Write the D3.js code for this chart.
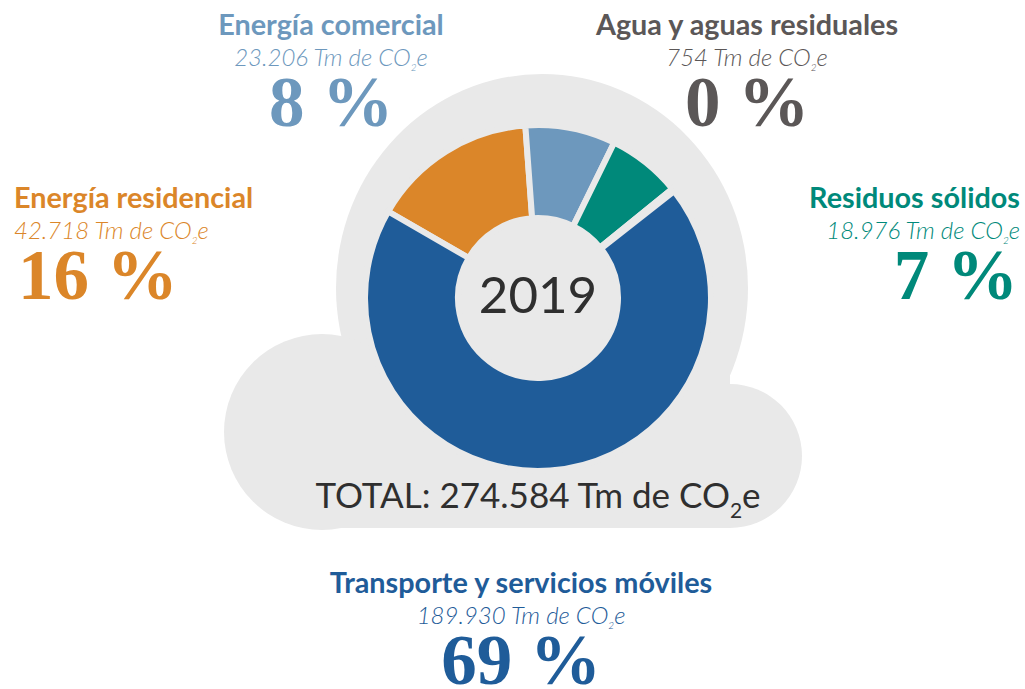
<!DOCTYPE html>
<html>
<head>
<meta charset="utf-8">
<script src="https://cdn.jsdelivr.net/npm/d3@7"></script>
<style>
  body { margin: 0; background: #fff; }
  text { font-family: Lato, "Open Sans", sans-serif; }
</style>
</head>
<body>
<svg id="chart" width="1025" height="689"></svg>
<script>
// DATA
const categories = [
  "Energía residencial",
  "Energía comercial",
  "Residuos sólidos",
  "Agua y aguas residuales",
  "Transporte y servicios móviles",
];
const emissions = [42718, 23206, 18976, 754, 189930];
const colors = ["#db8629", "#6d98bd", "#00897a", "#5b5757", "#1f5c99"];
const year = "2019";
const totalEmissions = 274584;

// label placement for each category (same order as categories)
const labelLayout = [
  { x: 14, y: 208, anchor: "start" },
  { x: 331, y: 35, anchor: "middle" },
  { x: 1020, y: 208, anchor: "end" },
  { x: 747, y: 35, anchor: "middle" },
  { x: 521, y: 593, anchor: "middle" },
];

const svg = d3.select("#chart");
const cx = 538,
  cy = 298,
  outerR = 173,
  innerR = 80;
const cloudColor = "#e9e9e9";

const es = d3.formatLocale({
  decimal: ",",
  thousands: ".",
  grouping: [3],
  currency: ["", " €"],
});
const fmt = es.format(",d");

// CLOUD BACKGROUND
const cloud = svg.append("g").attr("fill", cloudColor);
cloud.append("ellipse").attr("cx", cx + 4).attr("cy", cy - 10).attr("rx", 206).attr("ry", 214);
cloud.append("circle").attr("cx", cx - 216).attr("cy", cy + 134).attr("r", 98);
cloud.append("circle").attr("cx", cx + 192).attr("cy", cy + 158).attr("r", 72);
cloud.append("rect").attr("x", cx - 216).attr("y", cy + 60).attr("width", 408).attr("height", 170);

// DONUT
const pie = d3
  .pie()
  .sort(null)
  .startAngle((-60 * Math.PI) / 180)
  .endAngle((300 * Math.PI) / 180);

const arc = d3.arc().innerRadius(innerR).outerRadius(outerR);

const g = svg.append("g").attr("transform", `translate(${cx},${cy})`);

g.selectAll("path")
  .data(pie(emissions))
  .join("path")
  .attr("d", arc)
  .attr("fill", (d, i) => colors[i])
  .attr("stroke", cloudColor)
  .attr("stroke-width", 6)
  .attr("stroke-linejoin", "miter");

g.append("text")
  .attr("text-anchor", "middle")
  .attr("y", 15)
  .attr("font-size", 51)
  .attr("fill", "#2f2f2f")
  .text(year);

// TOTAL
const total = svg
  .append("text")
  .attr("x", cx)
  .attr("y", 508)
  .attr("text-anchor", "middle")
  .attr("font-size", 35)
  .attr("fill", "#2f2f2f");
total.append("tspan").text(`TOTAL: ${fmt(totalEmissions)} Tm de CO`);
total.append("tspan").attr("font-size", 21).attr("dy", 10).text("2");
total.append("tspan").attr("dy", -10).text("e");

// LABELS
const sum = d3.sum(emissions);

categories.forEach(function (name, i) {
  const L = labelLayout[i];
  const lg = svg
    .append("g")
    .attr("fill", colors[i])
    .attr("text-anchor", L.anchor);

  lg.append("text")
    .attr("x", L.x)
    .attr("y", L.y)
    .attr("font-size", 28.8)
    .attr("font-weight", 700)
    .text(name);

  const v = lg
    .append("text")
    .attr("x", L.x)
    .attr("y", L.y + 31)
    .attr("font-size", 24)
    .attr("font-style", "italic")
    .attr("font-weight", 300);
  v.append("tspan").text(`${fmt(emissions[i])} Tm de CO`);
  v.append("tspan").attr("font-size", 10).attr("dy", 5).text("2");
  v.append("tspan").attr("dy", -5).text("e");

  lg.append("text")
    .attr("x", L.anchor === "start" ? L.x + 4 : L.anchor === "end" ? L.x - 2 : L.x)
    .attr("y", L.y + 91)
    .attr("font-size", 71)
    .attr("font-weight", 700)
    .style("font-family", '"Liberation Serif", "DejaVu Serif", serif')
    .text(`${Math.round((emissions[i] / sum) * 100)} %`);
});
</script>
</body>
</html>
